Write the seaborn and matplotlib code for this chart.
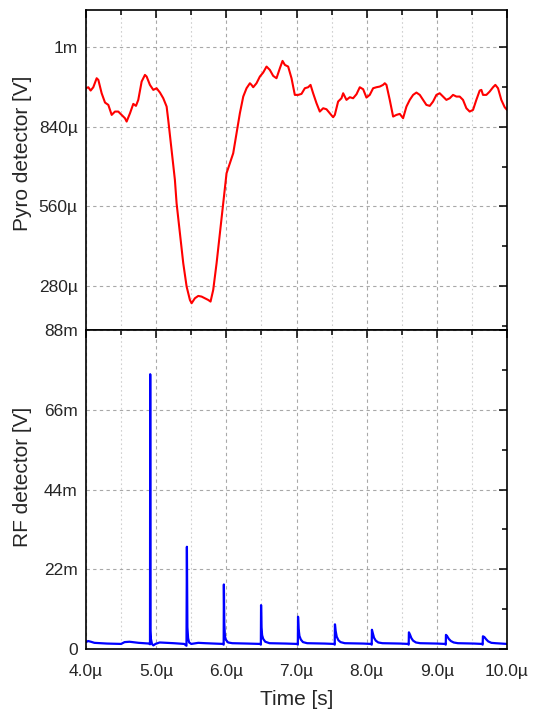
import matplotlib
matplotlib.use("Agg")
import matplotlib.pyplot as plt
import seaborn as sns
from matplotlib.ticker import MultipleLocator

# time axis (microseconds)
x_ticks_us = [4, 5, 6, 7, 8, 9, 10]
x_tick_labels = ["4.0µ", "5.0µ", "6.0µ", "7.0µ", "8.0µ", "9.0µ", "10.0µ"]

# pyro detector trace: time [µs], voltage [µV]
pyro_time_us = [
    4.000, 4.033, 4.066, 4.104, 4.152, 4.176, 4.223, 4.271, 4.318, 4.366,
    4.413, 4.460, 4.508, 4.555, 4.579, 4.627, 4.674, 4.712, 4.745, 4.793,
    4.840, 4.864, 4.911, 4.959, 5.006, 5.054, 5.101, 5.149, 5.172, 5.220,
    5.267, 5.291, 5.339, 5.386, 5.434, 5.481, 5.505, 5.552, 5.600, 5.647,
    5.695, 5.742, 5.775, 5.813, 5.861, 5.908, 5.956, 6.003, 6.051, 6.098,
    6.146, 6.193, 6.241, 6.288, 6.336, 6.359, 6.383, 6.430, 6.478, 6.525,
    6.573, 6.620, 6.668, 6.715, 6.763, 6.801, 6.834, 6.881, 6.929, 6.976,
    7.024, 7.071, 7.119, 7.166, 7.200, 7.237, 7.285, 7.332, 7.380, 7.427,
    7.475, 7.522, 7.546, 7.593, 7.641, 7.665, 7.712, 7.760, 7.807, 7.855,
    7.902, 7.950, 7.997, 8.044, 8.092, 8.139, 8.187, 8.234, 8.258, 8.282,
    8.329, 8.377, 8.424, 8.472, 8.519, 8.567, 8.614, 8.662, 8.709, 8.757,
    8.804, 8.851, 8.899, 8.946, 8.994, 9.041, 9.089, 9.136, 9.184, 9.231,
    9.279, 9.326, 9.373, 9.421, 9.468, 9.516, 9.563, 9.611, 9.635, 9.658,
    9.706, 9.753, 9.801, 9.834, 9.872, 9.919, 9.967, 10.000,
]
pyro_uv = [
    975.7, 979.2, 967.5, 979.2, 1010.9, 1005.0, 958.1, 925.3, 917.1, 881.9,
    893.6, 893.6, 881.9, 870.2, 858.4, 887.7, 920.6, 913.6, 934.7, 999.2,
    1022.6, 1016.8, 987.5, 969.9, 975.7, 960.5, 940.5, 911.2, 864.3, 758.7,
    653.1, 571.0, 465.4, 359.9, 277.8, 230.7, 219.1, 236.7, 244.9, 242.6,
    236.7, 230.7, 225.0, 266.0, 359.9, 465.4, 571.0, 676.6, 711.8, 746.9,
    817.4, 887.7, 946.4, 975.7, 993.3, 987.5, 979.2, 993.3, 1016.8, 1030.9,
    1052.0, 1040.2, 1019.1, 1010.9, 1046.1, 1071.9, 1057.8, 1052.0, 1010.9, 952.3,
    952.3, 955.8, 975.7, 979.2, 987.5, 958.1, 923.0, 893.6, 905.3, 901.8,
    887.7, 873.7, 881.9, 928.8, 940.5, 958.1, 934.7, 944.1, 940.5, 954.6,
    979.2, 972.2, 942.9, 952.3, 975.7, 979.2, 981.6, 987.5, 993.3, 987.5,
    934.7, 876.0, 881.9, 885.4, 870.2, 911.2, 934.7, 952.3, 960.5, 952.3,
    934.7, 917.1, 913.6, 928.8, 952.3, 958.1, 946.4, 934.7, 940.5, 952.3,
    946.4, 946.4, 934.7, 905.3, 893.6, 899.5, 934.7, 967.5, 969.9, 952.3,
    952.3, 964.0, 979.2, 987.5, 975.7, 934.7, 908.9, 899.5,
]
pyro_ticks_uv = [280, 560, 840, 1120]
pyro_tick_labels = ["280µ", "560µ", "840µ", "1m"]

# RF detector trace: time [µs], voltage [mV]
rf_time_us = [
    4.000, 4.030, 4.070, 4.120, 4.300, 4.500, 4.550, 4.620, 4.750, 4.900,
    4.912, 4.915, 4.919, 4.925, 4.940, 4.960, 4.990, 5.050, 5.150, 5.250,
    5.400, 5.432, 5.438, 5.445, 5.455, 5.470, 5.500, 5.600, 5.700, 5.950,
    5.962, 5.965, 5.971, 5.980, 5.995, 6.025, 6.085, 6.300, 6.480,
    6.492, 6.495, 6.501, 6.510, 6.525, 6.555, 6.615, 6.850, 7.005,
    7.019, 7.022, 7.030, 7.042, 7.062, 7.092, 7.152, 7.400, 7.532,
    7.545, 7.548, 7.558, 7.573, 7.598, 7.628, 7.688, 7.950, 8.060,
    8.072, 8.075, 8.087, 8.105, 8.130, 8.165, 8.225, 8.480, 8.588,
    8.599, 8.602, 8.617, 8.637, 8.662, 8.702, 8.762, 9.000, 9.116,
    9.127, 9.130, 9.145, 9.170, 9.200, 9.240, 9.300, 9.530, 9.642,
    9.653, 9.657, 9.677, 9.702, 9.732, 9.777, 9.837, 10.000,
]
rf_mv = [
    1.9, 2.2, 2.0, 1.7, 1.5, 1.4, 1.9, 2.0, 1.7, 1.5,
    1.3, 75.8, 5.0, 2.8, 1.4, 1.0, 1.4, 1.8, 1.7, 1.6,
    1.4, 0.9, 28.2, 6.0, 3.0, 1.8, 1.4, 1.7, 1.6, 1.4,
    1.2, 17.8, 7.2, 3.5, 2.5, 1.8, 1.6, 1.5, 1.4,
    1.2, 12.1, 6.0, 3.8, 2.8, 2.0, 1.6, 1.5, 1.4,
    1.2, 8.9, 5.6, 3.6, 2.6, 1.9, 1.6, 1.5, 1.4,
    1.2, 6.8, 5.0, 3.4, 2.4, 1.9, 1.6, 1.5, 1.4,
    1.2, 5.3, 4.4, 3.1, 2.3, 1.8, 1.6, 1.5, 1.4,
    1.2, 4.6, 4.0, 3.0, 2.3, 1.8, 1.6, 1.5, 1.4,
    1.2, 3.9, 3.6, 2.8, 2.2, 1.8, 1.6, 1.5, 1.4,
    1.2, 3.5, 3.3, 2.7, 2.1, 1.7, 1.6, 1.4,
]
rf_ticks_mv = [0, 22, 44, 66, 88]
rf_tick_labels = ["0", "22m", "44m", "66m", "88m"]


def style_axis(ax):
    """Inward ticks on all sides, dashed grid like the scope software."""
    ax.set_xlim(4, 10)
    ax.set_xticks(x_ticks_us)
    ax.xaxis.set_minor_locator(MultipleLocator(0.5))
    ax.grid(which="major", axis="both", linestyle=(0, (3, 3)), color="#a8a8a8", linewidth=0.8)
    ax.grid(which="minor", axis="x", linestyle=(0, (1.5, 2.5)), color="#cfcfcf", linewidth=0.8)
    ax.tick_params(which="both", direction="in", top=True, right=True,
                   width=1.1, color="black", labelsize=12.5, pad=6)
    ax.tick_params(which="major", length=6)
    ax.tick_params(which="minor", length=3.5)
    for sp in ax.spines.values():
        sp.set_linewidth(1.2)
        sp.set_color("black")
    ax.set_axisbelow(True)


sns.set_theme(style="white")
plt.rcParams["font.family"] = ["Liberation Sans", "DejaVu Sans"]

fig = plt.figure(figsize=(5.35, 7.13), dpi=100)
left, width = 86 / 535, 421 / 535
ax_top = fig.add_axes([left, 1 - 330 / 713, width, 320 / 713])
ax_bot = fig.add_axes([left, 1 - 649 / 713, width, 319 / 713])

# --- Pyro detector panel ---
sns.lineplot(x=pyro_time_us, y=pyro_uv, ax=ax_top, color="#ff0000",
             linewidth=1.5, estimator=None, sort=False)
style_axis(ax_top)
ax_top.set_ylim(125, 1251)
ax_top.set_yticks(pyro_ticks_uv)
ax_top.set_yticklabels(pyro_tick_labels)
ax_top.yaxis.set_minor_locator(MultipleLocator(140))
ax_top.set_xticklabels([])
ax_top.set_xlabel("")
ax_top.set_ylabel("Pyro detector [V]", fontsize=15)
ax_top.yaxis.set_label_coords(-0.128, 0.553)

# --- RF detector panel ---
sns.lineplot(x=rf_time_us, y=rf_mv, ax=ax_bot, color="#0000ff",
             linewidth=1.6, estimator=None, sort=False)
style_axis(ax_bot)
ax_bot.set_ylim(0, 88)
ax_bot.set_yticks(rf_ticks_mv)
ax_bot.set_yticklabels(rf_tick_labels)
ax_bot.yaxis.set_minor_locator(MultipleLocator(11))
ax_bot.set_xticklabels(x_tick_labels)
ax_bot.tick_params(axis="x", which="major", pad=10.5)
ax_bot.set_xlabel("Time [s]", fontsize=15, labelpad=8)
ax_bot.set_ylabel("RF detector [V]", fontsize=15)
ax_bot.yaxis.set_label_coords(-0.128, 0.539)

fig.savefig("out.png", dpi=100)
